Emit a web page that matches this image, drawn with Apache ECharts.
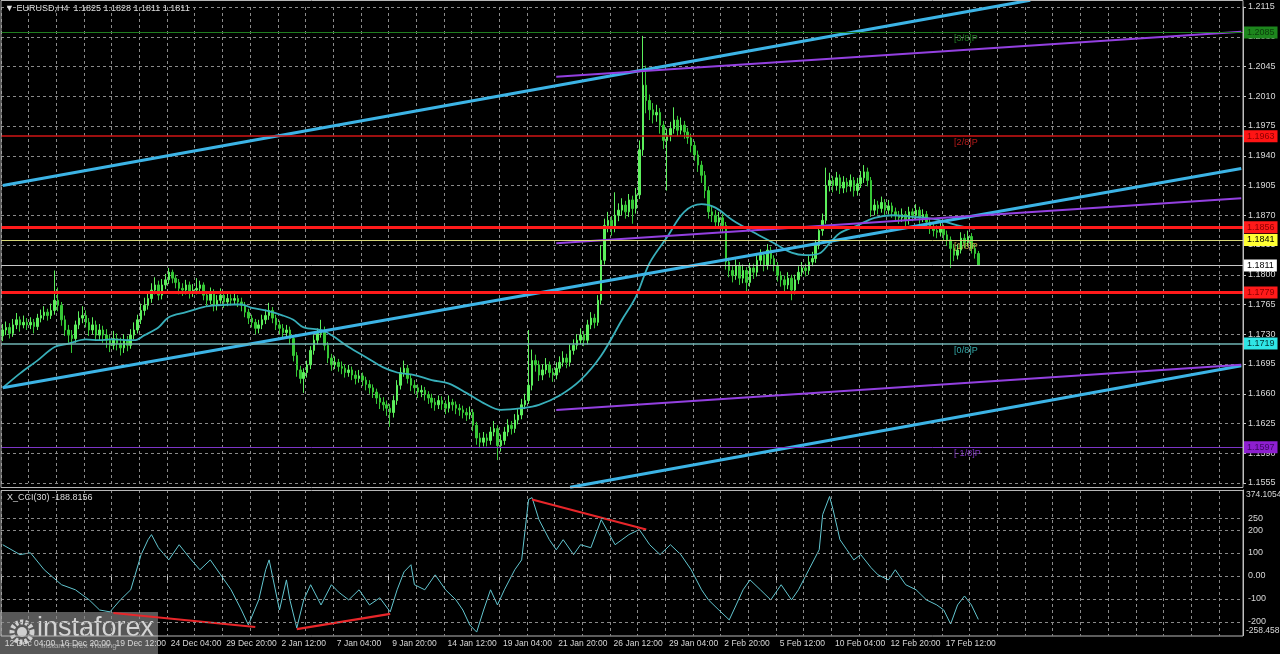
<!DOCTYPE html>
<html><head><meta charset="utf-8">
<script src="https://cdn.jsdelivr.net/npm/echarts@6/dist/echarts.min.js"></script>
<style>html,body{margin:0;padding:0;background:#000;}#c{width:1280px;height:654px;}</style>
</head><body><div id="c"></div>
<script>
// ---------- DATA (EURUSD H4) ----------
const timeLabels = ['12 Dec 04:00','16 Dec 20:00','19 Dec 12:00','24 Dec 04:00','29 Dec 20:00','2 Jan 12:00','7 Jan 04:00','9 Jan 20:00','14 Jan 12:00','19 Jan 04:00','21 Jan 20:00','26 Jan 12:00','29 Jan 04:00','2 Feb 20:00','5 Feb 12:00','10 Feb 04:00','12 Feb 20:00','17 Feb 12:00'];
const opens = [1.1728,1.1735,1.1738,1.1731,1.1741,1.1747,1.1741,1.1744,1.1741,1.1744,
1.1739,1.1749,1.1752,1.1756,1.1752,1.1758,1.1770,1.1764,1.1747,1.1735,
1.1729,1.1725,1.1741,1.1749,1.1752,1.1744,1.1735,1.1741,1.1729,1.1735,
1.1729,1.1723,1.1717,1.1725,1.1719,1.1714,1.1723,1.1717,1.1729,1.1735,
1.1747,1.1758,1.1764,1.1772,1.1782,1.1788,1.1776,1.1788,1.1794,1.1803,
1.1796,1.1791,1.1784,1.1782,1.1788,1.1779,1.1782,1.1784,1.1788,1.1776,
1.1770,1.1779,1.1764,1.1770,1.1776,1.1768,1.1772,1.1770,1.1772,1.1768,
1.1764,1.1756,1.1749,1.1744,1.1737,1.1741,1.1747,1.1752,1.1758,1.1749,
1.1741,1.1737,1.1732,1.1735,1.1725,1.1705,1.1688,1.1678,1.1685,1.1694,
1.1711,1.1723,1.1731,1.1735,1.1717,1.1702,1.1694,1.1697,1.1692,1.1690,
1.1685,1.1688,1.1682,1.1678,1.1681,1.1676,1.1671,1.1667,1.1662,1.1655,
1.1650,1.1647,1.1643,1.1638,1.1652,1.1670,1.1685,1.1690,1.1678,1.1670,
1.1667,1.1662,1.1664,1.1659,1.1655,1.1650,1.1647,1.1652,1.1648,1.1643,
1.1650,1.1647,1.1643,1.1641,1.1638,1.1635,1.1638,1.1623,1.1608,1.1603,
1.1608,1.1605,1.1615,1.1619,1.1599,1.1605,1.1615,1.1623,1.1619,1.1629,
1.1635,1.1647,1.1652,1.1670,1.1699,1.1694,1.1682,1.1688,1.1694,1.1685,
1.1682,1.1690,1.1697,1.1702,1.1697,1.1711,1.1717,1.1723,1.1729,1.1723,
1.1741,1.1749,1.1744,1.1770,1.1817,1.1858,1.1864,1.1855,1.1870,1.1876,
1.1882,1.1874,1.1888,1.1878,1.1894,1.1947,1.2023,1.2005,1.1994,1.1988,
1.1991,1.1976,1.1958,1.1964,1.1972,1.1982,1.1970,1.1976,1.1968,1.1961,
1.1952,1.1941,1.1929,1.1917,1.1899,1.1874,1.1870,1.1862,1.1867,1.1858,
1.1815,1.1805,1.1799,1.1811,1.1796,1.1805,1.1791,1.1808,1.1803,1.1817,
1.1823,1.1811,1.1829,1.1819,1.1811,1.1799,1.1794,1.1788,1.1796,1.1782,
1.1794,1.1803,1.1808,1.1805,1.1815,1.1819,1.1835,1.1852,1.1864,1.1905,
1.1911,1.1905,1.1914,1.1902,1.1909,1.1904,1.1911,1.1899,1.1907,1.1914,
1.1921,1.1911,1.1876,1.1882,1.1878,1.1885,1.1876,1.1881,1.1874,1.1870,
1.1867,1.1871,1.1864,1.1874,1.1870,1.1876,1.1867,1.1871,1.1862,1.1855,
1.1852,1.1850,1.1855,1.1847,1.1841,1.1831,1.1823,1.1829,1.1843,1.1838,
1.1845,1.1831,1.1825];
const highs = [1.1742,1.1745,1.1743,1.1748,1.1755,1.1751,1.1752,1.1749,1.1750,1.1748,
1.1754,1.1759,1.1763,1.1760,1.1766,1.1805,1.1785,1.1768,1.1752,1.1741,
1.1735,1.1746,1.1757,1.1763,1.1758,1.1749,1.1750,1.1746,1.1742,1.1740,
1.1736,1.1729,1.1734,1.1731,1.1726,1.1730,1.1728,1.1736,1.1744,1.1753,
1.1766,1.1773,1.1779,1.1790,1.1797,1.1793,1.1795,1.1801,1.1808,1.1806,
1.1800,1.1795,1.1790,1.1794,1.1792,1.1789,1.1796,1.1793,1.1791,1.1781,
1.1785,1.1783,1.1776,1.1784,1.1780,1.1779,1.1777,1.1781,1.1776,1.1773,
1.1768,1.1760,1.1753,1.1748,1.1747,1.1753,1.1759,1.1767,1.1762,1.1753,
1.1746,1.1742,1.1741,1.1739,1.1729,1.1709,1.1693,1.1690,1.1699,1.1716,
1.1729,1.1737,1.1747,1.1739,1.1721,1.1707,1.1704,1.1701,1.1698,1.1695,
1.1694,1.1692,1.1687,1.1688,1.1685,1.1680,1.1676,1.1671,1.1666,1.1660,
1.1656,1.1652,1.1648,1.1658,1.1676,1.1691,1.1699,1.1694,1.1683,1.1676,
1.1671,1.1670,1.1668,1.1663,1.1660,1.1655,1.1658,1.1657,1.1652,1.1658,
1.1654,1.1651,1.1648,1.1646,1.1643,1.1645,1.1642,1.1627,1.1614,1.1615,
1.1613,1.1621,1.1628,1.1623,1.1612,1.1621,1.1630,1.1628,1.1636,1.1642,
1.1654,1.1660,1.1735,1.1712,1.1706,1.1699,1.1695,1.1702,1.1698,1.1690,
1.1697,1.1704,1.1710,1.1707,1.1718,1.1724,1.1730,1.1737,1.1734,1.1747,
1.1756,1.1754,1.1776,1.1835,1.1866,1.1874,1.1869,1.1897,1.1884,1.1890,
1.1887,1.1895,1.1893,1.1902,1.1958,1.2081,1.2046,1.2012,1.2002,1.2000,
1.1996,1.1981,1.1972,1.1980,1.1997,1.1987,1.1985,1.1981,1.1973,1.1966,
1.1957,1.1946,1.1934,1.1922,1.1904,1.1880,1.1876,1.1874,1.1872,1.1862,
1.1820,1.1810,1.1818,1.1815,1.1812,1.1809,1.1814,1.1813,1.1824,1.1830,
1.1827,1.1836,1.1833,1.1823,1.1815,1.1804,1.1799,1.1803,1.1800,1.1800,
1.1810,1.1815,1.1813,1.1822,1.1827,1.1841,1.1858,1.1872,1.1926,1.1920,
1.1916,1.1921,1.1918,1.1916,1.1914,1.1918,1.1915,1.1914,1.1922,1.1929,
1.1926,1.1915,1.1889,1.1887,1.1892,1.1889,1.1888,1.1885,1.1879,1.1875,
1.1878,1.1875,1.1880,1.1878,1.1883,1.1880,1.1877,1.1875,1.1866,1.1860,
1.1858,1.1861,1.1859,1.1852,1.1845,1.1836,1.1836,1.1850,1.1848,1.1852,
1.1849,1.1836,1.1828];
const lows = [1.1722,1.1729,1.1725,1.1727,1.1736,1.1733,1.1737,1.1735,1.1736,1.1731,
1.1735,1.1744,1.1747,1.1746,1.1748,1.1753,1.1757,1.1740,1.1728,1.1720,
1.1708,1.1720,1.1736,1.1743,1.1738,1.1728,1.1730,1.1722,1.1723,1.1720,
1.1714,1.1709,1.1712,1.1711,1.1705,1.1708,1.1710,1.1713,1.1724,1.1731,
1.1742,1.1752,1.1759,1.1767,1.1777,1.1770,1.1771,1.1783,1.1789,1.1790,
1.1784,1.1777,1.1775,1.1777,1.1772,1.1774,1.1777,1.1779,1.1770,1.1762,
1.1765,1.1757,1.1758,1.1766,1.1761,1.1763,1.1764,1.1765,1.1762,1.1757,
1.1750,1.1742,1.1738,1.1730,1.1731,1.1736,1.1742,1.1747,1.1743,1.1735,
1.1730,1.1725,1.1727,1.1718,1.1698,1.1680,1.1672,1.1661,1.1679,1.1689,
1.1706,1.1718,1.1726,1.1711,1.1696,1.1687,1.1689,1.1686,1.1683,1.1679,
1.1680,1.1676,1.1671,1.1673,1.1669,1.1664,1.1660,1.1655,1.1648,1.1642,
1.1640,1.1634,1.1621,1.1632,1.1647,1.1665,1.1680,1.1672,1.1663,1.1660,
1.1655,1.1656,1.1652,1.1648,1.1643,1.1640,1.1642,1.1641,1.1636,1.1638,
1.1640,1.1636,1.1634,1.1631,1.1628,1.1630,1.1616,1.1600,1.1596,1.1598,
1.1598,1.1600,1.1610,1.1582,1.1592,1.1600,1.1610,1.1612,1.1614,1.1624,
1.1630,1.1642,1.1648,1.1664,1.1686,1.1675,1.1676,1.1683,1.1679,1.1674,
1.1677,1.1685,1.1692,1.1690,1.1692,1.1706,1.1712,1.1718,1.1716,1.1718,
1.1736,1.1737,1.1740,1.1765,1.1812,1.1850,1.1846,1.1850,1.1863,1.1870,
1.1866,1.1868,1.1860,1.1872,1.1889,1.1940,1.1990,1.1982,1.1978,1.1980,
1.1966,1.1948,1.1899,1.1957,1.1966,1.1963,1.1965,1.1960,1.1954,1.1944,
1.1934,1.1921,1.1908,1.1890,1.1866,1.1862,1.1854,1.1855,1.1849,1.1806,
1.1797,1.1791,1.1794,1.1788,1.1790,1.1778,1.1786,1.1795,1.1798,1.1811,
1.1804,1.1806,1.1812,1.1804,1.1792,1.1786,1.1780,1.1783,1.1770,1.1777,
1.1789,1.1798,1.1798,1.1800,1.1810,1.1814,1.1830,1.1846,1.1860,1.1898,
1.1897,1.1899,1.1895,1.1896,1.1897,1.1898,1.1892,1.1893,1.1902,1.1908,
1.1904,1.1868,1.1870,1.1871,1.1873,1.1869,1.1871,1.1867,1.1863,1.1860,
1.1862,1.1857,1.1859,1.1863,1.1865,1.1860,1.1862,1.1856,1.1848,1.1845,
1.1843,1.1845,1.1840,1.1834,1.1808,1.1816,1.1818,1.1825,1.1831,1.1833,
1.1825,1.1819,1.1811];
const closes = [1.1735,1.1738,1.1731,1.1741,1.1747,1.1741,1.1744,1.1741,1.1744,1.1739,
1.1749,1.1752,1.1756,1.1752,1.1758,1.1770,1.1764,1.1747,1.1735,1.1729,
1.1725,1.1741,1.1749,1.1752,1.1744,1.1735,1.1741,1.1729,1.1735,1.1729,
1.1723,1.1717,1.1725,1.1719,1.1714,1.1723,1.1717,1.1729,1.1735,1.1747,
1.1758,1.1764,1.1772,1.1782,1.1788,1.1776,1.1788,1.1794,1.1803,1.1796,
1.1791,1.1784,1.1782,1.1788,1.1779,1.1782,1.1784,1.1788,1.1776,1.1770,
1.1779,1.1764,1.1770,1.1776,1.1768,1.1772,1.1770,1.1772,1.1768,1.1764,
1.1756,1.1749,1.1744,1.1737,1.1741,1.1747,1.1752,1.1758,1.1749,1.1741,
1.1737,1.1732,1.1735,1.1725,1.1705,1.1688,1.1678,1.1685,1.1694,1.1711,
1.1723,1.1731,1.1735,1.1717,1.1702,1.1694,1.1697,1.1692,1.1690,1.1685,
1.1688,1.1682,1.1678,1.1681,1.1676,1.1671,1.1667,1.1662,1.1655,1.1650,
1.1647,1.1643,1.1638,1.1652,1.1670,1.1685,1.1690,1.1678,1.1670,1.1667,
1.1662,1.1664,1.1659,1.1655,1.1650,1.1647,1.1652,1.1648,1.1643,1.1650,
1.1647,1.1643,1.1641,1.1638,1.1635,1.1638,1.1623,1.1608,1.1603,1.1608,
1.1605,1.1615,1.1619,1.1599,1.1605,1.1615,1.1623,1.1619,1.1629,1.1635,
1.1647,1.1652,1.1670,1.1699,1.1694,1.1682,1.1688,1.1694,1.1685,1.1682,
1.1690,1.1697,1.1702,1.1697,1.1711,1.1717,1.1723,1.1729,1.1723,1.1741,
1.1749,1.1744,1.1770,1.1817,1.1858,1.1864,1.1855,1.1870,1.1876,1.1882,
1.1874,1.1888,1.1878,1.1894,1.1947,1.2023,1.2005,1.1994,1.1988,1.1991,
1.1976,1.1958,1.1964,1.1972,1.1982,1.1970,1.1976,1.1968,1.1961,1.1952,
1.1941,1.1929,1.1917,1.1899,1.1874,1.1870,1.1862,1.1867,1.1858,1.1815,
1.1805,1.1799,1.1811,1.1796,1.1805,1.1791,1.1808,1.1803,1.1817,1.1823,
1.1811,1.1829,1.1819,1.1811,1.1799,1.1794,1.1788,1.1796,1.1782,1.1794,
1.1803,1.1808,1.1805,1.1815,1.1819,1.1835,1.1852,1.1864,1.1905,1.1911,
1.1905,1.1914,1.1902,1.1909,1.1904,1.1911,1.1899,1.1907,1.1914,1.1921,
1.1911,1.1876,1.1882,1.1878,1.1885,1.1876,1.1881,1.1874,1.1870,1.1867,
1.1871,1.1864,1.1874,1.1870,1.1876,1.1867,1.1871,1.1862,1.1855,1.1852,
1.1850,1.1855,1.1847,1.1841,1.1831,1.1823,1.1829,1.1843,1.1838,1.1845,
1.1831,1.1825,1.1811];
const maBars = [0,5,10,15,19,24,28,31,38,41,45,48,53,58,62,67,69,72,76,81,84,87,92,95,100,105,110,114,119,124,129,134,139,144,150,155,161,167,173,179,183,187,192,197,202,206,211,217,223,228,232,236,239,242,247,252,257,263,267,271,276,281];
const maValues = [1.1667,1.1684,1.1699,1.1715,1.1719,1.1724,1.1723,1.1724,1.1723,1.1729,1.1738,1.1750,1.1756,1.1762,1.1764,1.1765,1.1765,1.1761,1.1758,1.1752,1.1747,1.1738,1.1735,1.1729,1.1715,1.1703,1.1691,1.1685,1.1682,1.1676,1.1672,1.1661,1.1649,1.1641,1.1643,1.1647,1.1658,1.1676,1.1705,1.1747,1.1774,1.1814,1.1844,1.1874,1.1883,1.1879,1.1864,1.1850,1.1837,1.1826,1.1823,1.1825,1.1837,1.1849,1.1858,1.1867,1.1870,1.1868,1.1867,1.1864,1.1858,1.1854];
const cciBars = [0,5,8,12,17,21,25,28,31,34,37,40,42,43,45,48,51,54,57,60,63,66,69,71,74,76,77,80,82,83,85,87,89,92,95,97,100,103,106,109,112,114,116,118,119,122,125,128,131,133,135,137,139,141,143,145,148,150,152,153,155,158,160,162,165,167,170,173,177,181,184,187,190,193,196,199,202,204,207,210,212,214,216,219,222,225,228,230,233,236,237,239,240,242,244,246,248,251,253,256,258,261,264,267,270,272,274,276,278,280,282];
const cciValues = [136,93,101,27,-38,-60,-104,-148,-156,-104,-60,93,158,180,123,70,136,79,27,70,5,-60,-148,-213,-104,27,70,-148,-17,-104,-226,-104,-38,-126,-38,-69,-104,-60,-126,-95,-156,-60,18,49,-38,-60,5,-60,-104,-148,-213,-244,-148,-60,-126,-60,27,70,333,341,245,158,114,158,93,136,123,245,136,180,202,136,93,136,93,27,-60,-104,-148,-191,-126,-60,-17,-60,-104,-38,-104,-60,27,114,267,346,289,158,114,70,93,36,5,-17,27,-38,-60,-104,-126,-148,-209,-126,-87,-126,-189];
const cciCurrent = -188.8156;
const cciMin = -258.458, cciMax = 374.1054;
const cciLevels = [250, 200, 100, 0, -100, -200];
const cciLevelLabels = ['250', '200', '100', '0.00', '-100', '-200'];
const cciDivergences = [[[32,-161],[73,-222]], [[85,-231],[112,-165]], [[153,333],[186,202]]];
const priceTicks = {min: 1.1555, max: 1.2115, step: 0.0035};
const murreyLevels = [1.2085, 1.1963, 1.1841, 1.1719, 1.1597];
const murreyNames = ['[3/8]P', '[2/8]P', '[1/8]P', '[0/8]P', '[-1/8]P'];
const srLevels = [1.1856, 1.1779];
const cyanChannel = [[[0,1.1905],[297,1.2123]], [[0,1.1667],[358,1.1925]], [[164,1.1550],[358,1.1693]]];
const purpleChannel = [[[160,1.2033],[358,1.2086]], [[160,1.1837],[358,1.1890]], [[160,1.1641],[358,1.1694]]];
const murreyLabelBar = 275;

// ---------- STYLE ----------
const FONT = 'Liberation Sans';
const nSlots = 359, labelStep = 16, gridStep = 8;
const gridColor = '#8a8a8a';
const murreyStyle = [
  {line:'#1f7d1f', w:1, bg:'#1d861d', fg:'#0b3d0b', txt:'#2a9a2a'},
  {line:'#d01515', w:1.5, bg:'#ff1414', fg:'#8a0000', txt:'#e02020'},
  {line:'#d8d878', w:1, bg:'#ffff33', fg:'#000000', txt:'#f0d050'},
  {line:'#6fb3b3', w:1.5, bg:'#2fe6e6', fg:'#003333', txt:'#40d0d0'},
  {line:'#7d35c8', w:1, bg:'#8e1fd0', fg:'#3c0860', txt:'#9a40e8'}
];
const n = closes.length;
const cats = Array.from({length: nSlots}, (_, i) => String(i));
const last = n - 1;

const priceMarks = [];
murreyLevels.forEach((v, k) => {
  const s = murreyStyle[k];
  priceMarks.push({yAxis: v, lineStyle: {color: s.line, width: s.w, type: 'solid'},
    label: {show: true, position: 'end', distance: 1, formatter: v.toFixed(4), backgroundColor: s.bg, color: s.fg, padding: [2, 3, 1, 3], fontSize: 9, fontFamily: FONT}});
});
srLevels.forEach(v => {
  priceMarks.push({yAxis: v, lineStyle: {color: '#ff1a1a', width: 3, type: 'solid'},
    label: {show: true, position: 'end', distance: 1, formatter: v.toFixed(4), backgroundColor: '#ff1a1a', color: '#8a0000', padding: [2, 3, 1, 3], fontSize: 9, fontFamily: FONT}});
});
priceMarks.push({yAxis: closes[last], lineStyle: {color: '#c8c8c8', width: 1, type: 'solid'},
  label: {show: true, position: 'end', distance: 1, formatter: closes[last].toFixed(4), backgroundColor: '#ffffff', color: '#000', padding: [2, 3, 1, 3], fontSize: 9, fontFamily: FONT}});

const cciMarks = cciLevels.map((v, k) => ({yAxis: v, lineStyle: {color: gridColor, width: 1, type: [3, 3]},
  label: {show: true, position: 'end', distance: 5, formatter: cciLevelLabels[k], color: '#d8d8d8', fontSize: 9, fontFamily: FONT}}));

const splitEvery = (i) => i % gridStep === 0;
const xBase = {type: 'category', data: cats, boundaryGap: true,
  axisLine: {show: false}, axisTick: {show: false}, axisLabel: {show: false},
  splitLine: {show: true, interval: splitEvery, lineStyle: {color: gridColor, type: [3, 3], width: 1}}};

const series = [];
series.push({type: 'candlestick', xAxisIndex: 0, yAxisIndex: 0, barWidth: 2, silent: true,
  data: closes.map((c, i) => [opens[i], c, lows[i], highs[i]]),
  itemStyle: {color: '#5cf05c', color0: '#36c836', borderColor: '#5cf05c', borderColor0: '#36c836', borderWidth: 1}});
series.push({type: 'line', xAxisIndex: 0, yAxisIndex: 0, silent: true, showSymbol: false, smooth: 0.35,
  data: maBars.map((b, k) => [b, maValues[k]]), lineStyle: {color: '#38afba', width: 1.8}, z: 3,
  markLine: {silent: true, precision: 4, symbol: ['none', 'none'], animation: false, data: priceMarks}});
cyanChannel.forEach(seg => series.push({type: 'line', xAxisIndex: 0, yAxisIndex: 0, silent: true, showSymbol: false, clip: false, z: 4,
  data: seg, lineStyle: {color: '#3cb4e6', width: 3}}));
purpleChannel.forEach(seg => series.push({type: 'line', xAxisIndex: 0, yAxisIndex: 0, silent: true, showSymbol: false, clip: false, z: 4,
  data: seg, lineStyle: {color: '#9340e0', width: 2}}));
series.push({type: 'scatter', xAxisIndex: 0, yAxisIndex: 0, silent: true, symbolSize: 0, itemStyle: {color: 'rgba(0,0,0,0)'}, z: 6,
  data: murreyLevels.map((v, k) => ({value: [murreyLabelBar, v], label: {color: murreyStyle[k].txt}})),
  label: {show: true, position: [0, 2], align: 'left', verticalAlign: 'top', fontSize: 9, fontFamily: FONT,
    formatter: (p) => murreyNames[p.dataIndex]}});
series.push({type: 'line', xAxisIndex: 1, yAxisIndex: 1, silent: true, showSymbol: false,
  data: cciBars.map((b, k) => [b, cciValues[k]]), lineStyle: {color: '#62c6d0', width: 1},
  markLine: {silent: true, precision: 4, symbol: ['none', 'none'], animation: false, data: cciMarks}});
cciDivergences.forEach(seg => series.push({type: 'line', xAxisIndex: 1, yAxisIndex: 1, silent: true, showSymbol: false, z: 4,
  data: seg, lineStyle: {color: '#e8262a', width: 2.2}}));

const option = {
  backgroundColor: '#000000',
  animation: false,
  textStyle: {fontFamily: FONT},
  grid: [
    {left: 1, right: 37, top: 7, height: 476, containLabel: false, outerBoundsMode: 'none'},
    {left: 1, right: 37, top: 490, height: 145.4, containLabel: false, outerBoundsMode: 'none'}
  ],
  xAxis: [
    Object.assign({}, xBase, {gridIndex: 0}),
    Object.assign({}, xBase, {gridIndex: 1,
      axisTick: {show: true, interval: (i) => i % labelStep === 0 && i / labelStep < timeLabels.length, length: 4, lineStyle: {color: '#cfcfcf'}},
      axisLabel: {show: true, interval: (i) => i % labelStep === 0 && i / labelStep < timeLabels.length,
        formatter: (v) => timeLabels[Number(v) / labelStep] || '', align: 'left', margin: 4, padding: [0, 0, 0, 2],
        color: '#d8d8d8', fontSize: 8.5, fontFamily: FONT}})
  ],
  yAxis: [
    {gridIndex: 0, type: 'value', position: 'right', min: priceTicks.min, max: priceTicks.max, interval: priceTicks.step,
      axisLine: {show: true, lineStyle: {color: '#c8c8c8'}}, axisTick: {show: true, length: 3, lineStyle: {color: '#c8c8c8'}},
      axisLabel: {color: '#d8d8d8', fontSize: 9, fontFamily: FONT, margin: 5, formatter: (v) => v.toFixed(4)},
      splitLine: {show: true, lineStyle: {color: gridColor, type: [3, 3], width: 1}}},
    {gridIndex: 1, type: 'value', position: 'right', min: cciMin, max: cciMax, interval: cciMax - cciMin,
      axisLine: {show: true, lineStyle: {color: '#c8c8c8'}}, axisTick: {show: false},
      axisLabel: {show: true, showMinLabel: true, showMaxLabel: true, margin: 3, color: '#d8d8d8', fontSize: 8.5, fontFamily: FONT,
        verticalAlignMaxLabel: 'top', verticalAlignMinLabel: 'bottom',
        formatter: (v) => (v > 0 ? String(cciMax) : String(cciMin))},
      splitLine: {show: false}}
  ],
  series: series,
  graphic: [
    {type: 'rect', shape: {x: 1, y: 0.5, width: 1242, height: 487}, style: {fill: 'none', stroke: '#b8b8b8', lineWidth: 1}, silent: true, z: 10},
    {type: 'rect', shape: {x: 1, y: 490.5, width: 1242, height: 145.5}, style: {fill: 'none', stroke: '#b8b8b8', lineWidth: 1}, silent: true, z: 10},
    {type: 'text', left: 5, top: 4, silent: true, z: 11,
      style: {text: '\u25BC EURUSD,H4  ' + [opens[last], highs[last], lows[last], closes[last]].map(v => v.toFixed(4)).join(' '), fill: '#dcdcdc', font: '9px "' + FONT + '"'}},
    {type: 'text', left: 7, top: 493, silent: true, z: 11,
      style: {text: 'X_CCI(30) ' + cciCurrent.toFixed(4), fill: '#dcdcdc', font: '9px "' + FONT + '"'}},
    {type: 'group', silent: true, z: 20, children: [
      {type: 'rect', shape: {x: 0, y: 612, width: 158, height: 42}, style: {fill: 'rgba(95,95,95,0.92)'}},
      {type: 'circle', shape: {cx: 22, cy: 632, r: 10}, style: {fill: 'none', stroke: '#d0d0d0', lineWidth: 5, lineDash: [3, 2]}},
      {type: 'circle', shape: {cx: 22, cy: 632, r: 5}, style: {fill: '#d0d0d0'}},
      {type: 'text', x: 37, y: 615, style: {text: 'instaforex', fill: '#d4d4d4', font: '27px "' + FONT + '"'}},
      {type: 'text', x: 41, y: 642, style: {text: 'Instant Forex Trading', fill: '#b0b0b0', font: '8px "' + FONT + '"'}}
    ]}
  ]
};
const chart = echarts.init(document.getElementById('c'));
chart.setOption(option);
</script></body></html>
